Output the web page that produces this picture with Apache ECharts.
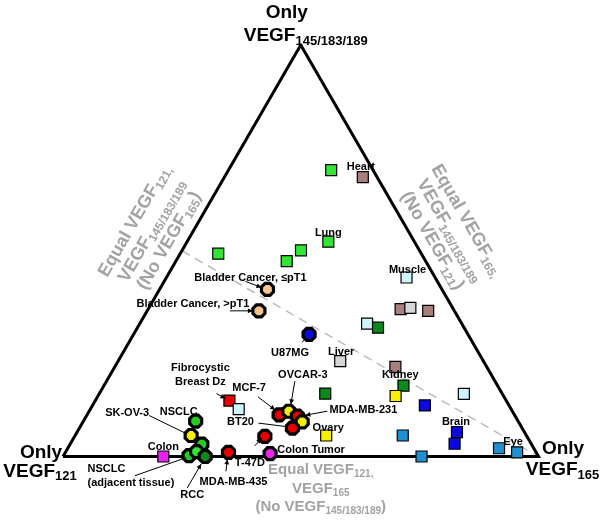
<!DOCTYPE html>
<html><head><meta charset="utf-8">
<script src="https://cdn.jsdelivr.net/npm/echarts@6/dist/echarts.min.js"></script>
<style>html,body{margin:0;padding:0;background:#fff}#c{width:602px;height:520px}</style>
</head><body><div id="c"></div>
<script>
// ===== DATA: VEGF isoform composition, % of total =====
// Normal tissues / benign samples (squares)
const tissueNames = ['Heart (2)','Heart','Lung','Lung (2)','Lung (3)','Lung (4)','Muscle','Tissue A','Tissue B','Tissue C','Tissue D','Tissue E','Liver','Kidney','Kidney (2)','Kidney (3)','Tissue F','Tissue G','Tissue H','Fibrocystic Breast Dz','Fibrocystic (2)','Ovary','Tissue I','Brain','Brain (2)','Tissue J','Eye (2)','Eye','Colon'];
const tissue121 = [8.8, 3.0,18.1,24.9,29.2,42.7, 6.0,11.1, 8.9, 5.5,19.9,18.1,30.1,19.2,19.8,22.7,37.2, 8.1,17.7,58.2,57.3,42.1,26.0,14.2,16.1,24.6, 7.3, 4.0,78.9];
const tissue165 = [21.6,29.1,29.7,25.0,23.3, 8.0,50.5,53.1,55.0,59.1,47.8,50.6,46.7,59.0,63.0,62.6,47.5,76.7,69.9,28.2,31.2,52.8,68.9,79.9,80.8,75.4,90.7,95.0,21.1];
const tissue145 = [69.6,67.9,52.2,50.1,47.5,49.3,43.5,35.8,36.1,35.4,32.3,31.3,23.2,21.8,17.2,14.7,15.3,15.2,12.4,13.6,11.5, 5.1, 5.1, 5.9, 3.1, 0.0, 2.0, 1.0, 0.0];
const tissueColorKey = ['lime','rosy','lime','lime','lime','lime','pale','rosy','gray','rosy','pale','dkgreen','gray','rosy','dkgreen','yellow','dkgreen','pale','blue','red','pale','yellow','steel','blue','blue','steel','steel','steel','magenta'];

// Tumours / cell lines (octagons)
const tumorNames = ['Bladder Cancer, ≤pT1','Bladder Cancer, >pT1','U87MG','MCF-7','OVCAR-3','MDA-MB-231','MDA-MB-231 (2)','BT20','T-47D','Colon Tumor','MDA-MB-435','NSCLC','SK-OV-3','NSCLC (2)','NSCLC (adjacent tissue)','NSCLC (3)','RCC'];
const tumor121 = [36.7,41.1,33.4,49.5,47.0,45.8,45.5,48.3,55.1,56.1,64.7,67.8,70.5,69.3,73.4,71.3,70.1];
const tumor165 = [22.7,23.5,36.9,40.4,42.0,44.4,46.1,44.8,40.0,43.2,34.3,23.6,24.4,27.7,26.4,27.5,29.9];
const tumor145 = [40.6,35.4,29.7,10.1,11.0, 9.8, 8.4, 6.9, 4.9, 0.7, 1.0, 8.6, 5.1, 3.0, 0.2, 1.2, 0.0];
const tumorColorKey = ['tan','tan','blue','red','yellow','red','yellow','red','red','magenta','red','green','yellow','green','green','lime','dkgreen'];

// Triangle corners and reference line (compositions)
const cornerComps = [[100,0,0],[0,100,0],[0,0,100]];
const equalLineComps = [[50,0,50],[0,100,0]];

// ===== STYLES =====
const palette = {lime:'#33e633', green:'#22cc22', dkgreen:'#0b8a1c', rosy:'#a97f7c', gray:'#d6d6d6', pale:'#cdf3fb', yellow:'#f7f000', blue:'#0a0ae0', steel:'#2190d0', red:'#e80000', magenta:'#ee22ee', tan:'#f6c48e'};
const FONT = '"Liberation Sans", Arial, sans-serif';
const SQRT3_2 = Math.sqrt(3) / 2;
function toXY(c) { const s = c[0] + c[1] + c[2]; const b = c[1] / s, t = c[2] / s; return [b + t / 2, t * SQRT3_2]; }

const annotations = [
 {target:'Heart', text:'Heart', dx:-2, dy:-10},
 {target:'Lung', text:'Lung', dx:0, dy:-9},
 {target:'Muscle', text:'Muscle', dx:1, dy:-8},
 {target:'Liver', text:'Liver', dx:1, dy:-9},
 {target:'Kidney', text:'Kidney', dx:5, dy:8},
 {target:'Brain', text:'Brain', dx:-1, dy:-10},
 {target:'Eye', text:'Eye', dx:-4, dy:-10},
 {target:'Colon', text:'Colon', dx:0, dy:-10},
 {target:'Ovary', text:'Ovary', dx:2, dy:-8},
 {target:'Fibrocystic Breast Dz', text:'Fibrocystic\nBreast Dz', dx:-29, dy:-26, line:[-13,-7,-4,-2], arrow:true},
 {target:'Bladder Cancer, ≤pT1', text:'Bladder Cancer, ≤pT1', dx:-17, dy:-11, line:[-22,-8,-6,-2], arrow:true},
 {target:'Bladder Cancer, >pT1', text:'Bladder Cancer, >pT1', dx:-66, dy:-6.5, line:[-29,0,-6,0], arrow:true},
 {target:'U87MG', text:'U87MG', dx:-19, dy:19, line:[-7,8,-3,3.5]},
 {target:'OVCAR-3', text:'OVCAR-3', dx:14, dy:-36, line:[6,-30,2,-7], arrow:true},
 {target:'MCF-7', text:'MCF-7', dx:-30, dy:-27, line:[-21,-18,-4,-5], arrow:true},
 {target:'MDA-MB-231', text:'MDA-MB-231', dx:66, dy:-6, line:[30,-5,8,-1], arrow:true},
 {target:'BT20', text:'BT20', dx:-52, dy:-6, line:[-34,-5,-6,-1.5]},
 {target:'Colon Tumor', text:'Colon Tumor', dx:41, dy:-4},
 {target:'T-47D', text:'T-47D', dx:-15, dy:26.5, line:[-10,9.5,-3.5,2], arrow:true},
 {target:'MDA-MB-435', text:'MDA-MB-435', dx:5, dy:30, line:[-2.5,19,-1.2,7], arrow:true},
 {target:'RCC', text:'RCC', dx:-13, dy:38, line:[-18,31.5,-4,7.5], arrow:true},
 {target:'NSCLC (adjacent tissue)', text:'NSCLC\n(adjacent tissue)', dx:-101.5, dy:20, align:'left', line:[-54,20,-3,2]},
 {target:'SK-OV-3', text:'SK-OV-3', dx:-64, dy:-23, line:[-42,-20,-4,-1.5]},
 {target:'NSCLC', text:'NSCLC', dx:-17, dy:-9}
];

// vertex labels: offsets of the "Only" line and of the "VEGF" line from the corner
const vertexLabels = [
 {corner:2, sub:'145/183/189', only:[-14,-32], vegf:[5,-9]},
 {corner:0, sub:'121', only:[-22,-4], vegf:[-23,15]},
 {corner:1, sub:'165', only:[24.5,-7.5], vegf:[24,13.5]}
];
// grey edge labels: anchored at edge midpoints
const edgeLabels = [
 {comp:[50,0,50], lines:[['Equal VEGF','121,',''],['VEGF','145/183/189',''],['(No VEGF','165',')']], dx:-30, dy:-20, rot:Math.PI/3, size:18, gap:20},
 {comp:[0,50,50], lines:[['Equal VEGF','165,',''],['VEGF','145/183/189',''],['(No VEGF','121',')']], dx:30, dy:-20, rot:-Math.PI/3, size:18, gap:20},
 {comp:[50,50,0], lines:[['Equal VEGF','121,',''],['VEGF','165',''],['(No VEGF','145/183/189',')']], dx:20, dy:32, rot:0, size:15, gap:18.5}
];

// ===== BUILD =====
const octagon = 'path://M29.3,0 L70.7,0 L100,29.3 L100,70.7 L70.7,100 L29.3,100 L0,70.7 L0,29.3 Z';
const tissueData = tissueNames.map((n,i)=>({name:n, value:toXY([tissue121[i],tissue165[i],tissue145[i]]), itemStyle:{color:palette[tissueColorKey[i]]}}));
const tumorData = tumorNames.map((n,i)=>({name:n, value:toXY([tumor121[i],tumor165[i],tumor145[i]]), itemStyle:{color:palette[tumorColorKey[i]]}}));
const allPos = {};
tissueData.forEach(d=>allPos[d.name]=d.value); tumorData.forEach(d=>allPos[d.name]=d.value);

const triData = cornerComps.concat([cornerComps[0]]).map(toXY);
const eqData = equalLineComps.map(toXY);

function subRich(size, color) {
  const ss = Math.round(size*0.66);
  return {
    m:{fontSize:size, fontWeight:'bold', fontFamily:FONT, fill:color, lineHeight:size+4},
    s:{fontSize:ss, fontWeight:'bold', fontFamily:FONT, fill:color, lineHeight:Math.round(size*0.5), verticalAlign:'bottom'}
  };
}

const chart = echarts.init(document.getElementById('c'), null, {renderer:'canvas'});
chart.setOption({
  animation:false,
  backgroundColor:'#fff',
  grid:{left:63, right:63.5, top:45, bottom:63.5},
  xAxis:{type:'value', min:0, max:1, show:false},
  yAxis:{type:'value', min:0, max:SQRT3_2, show:false},
  series:[
    {type:'line', data:eqData, symbol:'none', silent:true, lineStyle:{color:'#bdbdbd', width:1.5, type:[9,6]}, z:1},
    {type:'line', data:triData, symbol:'none', silent:true, lineStyle:{color:'#000', width:3, join:'miter'}, z:2},
    {type:'scatter', data:tissueData, symbol:'rect', symbolSize:11, clip:false, itemStyle:{borderColor:'#000', borderWidth:1.2, opacity:1}, z:3},
    {type:'scatter', data:tumorData, symbol:octagon, symbolSize:12, clip:false, itemStyle:{borderColor:'#000', borderWidth:3.2, opacity:1}, z:4},
    {type:'custom', coordinateSystem:'cartesian2d', z:5, silent:true, clip:false,
     data: annotations.map(a=>allPos[a.target]),
     renderItem:function(params, api){
       const a = annotations[params.dataIndex];
       const p = api.coord([api.value(0), api.value(1)]);
       const ch = [{type:'text', x:p[0]+a.dx, y:p[1]+a.dy, style:{text:a.text, fill:'#000', font:'bold 11px '+FONT, align:a.align||'center', verticalAlign:'middle', lineHeight:14}}];
       if (a.line) {
         const x1=p[0]+a.line[0], y1=p[1]+a.line[1], x2=p[0]+a.line[2], y2=p[1]+a.line[3];
         ch.push({type:'line', shape:{x1,y1,x2,y2}, style:{stroke:'#000', lineWidth:1}});
         if (a.arrow) {
           const ang=Math.atan2(y2-y1,x2-x1), L=5, W=2.4, c=Math.cos(ang), s=Math.sin(ang);
           ch.push({type:'polygon', shape:{points:[[x2,y2],[x2-L*c+W*s,y2-L*s-W*c],[x2-L*c-W*s,y2-L*s+W*c]]}, style:{fill:'#000'}});
         }
       }
       return {type:'group', children:ch};
     }},
    {type:'custom', coordinateSystem:'cartesian2d', z:6, silent:true, clip:false,
     data: vertexLabels.map(v=>toXY(cornerComps[v.corner])),
     renderItem:function(params, api){
       const v = vertexLabels[params.dataIndex];
       const p = api.coord([api.value(0), api.value(1)]);
       return {type:'group', x:p[0], y:p[1], children:[
         {type:'text', x:v.only[0], y:v.only[1], style:{text:'Only', fill:'#000', font:'bold 19px '+FONT, align:'center', verticalAlign:'middle'}},
         {type:'text', x:v.vegf[0], y:v.vegf[1], style:{text:'{m|VEGF}{s|'+v.sub+'}', rich:subRich(19, '#000'), align:'center', verticalAlign:'middle'}}
       ]};
     }},
    {type:'custom', coordinateSystem:'cartesian2d', z:6, silent:true, clip:false,
     data: edgeLabels.map(e=>toXY(e.comp)),
     renderItem:function(params, api){
       const e = edgeLabels[params.dataIndex];
       const p = api.coord([api.value(0), api.value(1)]);
       const col = '#a3a3a3';
       return {type:'group', x:p[0]+e.dx, y:p[1]+e.dy, rotation:e.rot, children:e.lines.map((ln,i)=>({
         type:'text', x:0, y:(i-1)*e.gap,
         style:{text:'{m|'+ln[0]+'}{s|'+ln[1]+'}'+(ln[2]?'{m|'+ln[2]+'}':''), rich:subRich(e.size, col), align:'center', verticalAlign:'middle'}
       }))};
     }}
  ]
});
</script></body></html>
